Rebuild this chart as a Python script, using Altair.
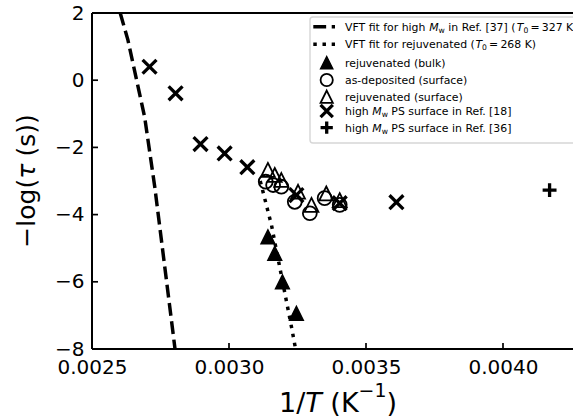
import altair as alt
import pandas as pd

# ---------------- data ----------------
vft_high_x = [0.002603, 0.002631, 0.002692, 0.002729, 0.002803]
vft_high_y = [2.0, 1.20, -1.09, -3.17, -8.0]

vft_rej_x = [0.003114, 0.003155, 0.003228, 0.003243]
vft_rej_y = [-3.00, -4.31, -7.34, -8.0]

bulk_x = [0.003142, 0.003167, 0.003195, 0.003246]
bulk_y = [-4.66, -5.15, -6.00, -6.94]

asdep_x = [0.003134, 0.003161, 0.003191, 0.003240, 0.003295, 0.003349, 0.003404]
asdep_y = [-3.02, -3.12, -3.17, -3.62, -3.96, -3.51, -3.71]

rejsurf_x = [0.003142, 0.003167, 0.003191, 0.003252, 0.003301, 0.003355, 0.003404]
rejsurf_y = [-2.67, -2.82, -2.97, -3.32, -3.71, -3.37, -3.57]

ref18_x = [0.002710, 0.002805, 0.002896, 0.002984, 0.003067, 0.003246, 0.003404, 0.003611]
ref18_y = [0.40, -0.39, -1.90, -2.18, -2.59, -3.42, -3.66, -3.63]

ref36_x = [0.004170]
ref36_y = [-3.27]

x_ticks = [0.0025, 0.0030, 0.0035, 0.0040]
y_ticks = [-8, -6, -4, -2, 0, 2]

# label segments: (text, style); style "g" is a math gap given in em
legend_rows = [
    [("VFT fit for high ", "n"), ("M", "i"), ("w", "sub"), (" in Ref. [37] (", "n"),
     ("T", "i"), ("0", "sub"), (0.2, "g"), ("=", "n"), (0.2, "g"), ("327", "n"), (" K)", "n")],
    [("VFT fit for rejuvenated (", "n"), ("T", "i"), ("0", "sub"), (0.2, "g"), ("=", "n"),
     (0.2, "g"), ("268", "n"), (" K)", "n")],
    [("rejuvenated (bulk)", "n")],
    [("as-deposited (surface)", "n")],
    [("rejuvenated (surface)", "n")],
    [("high ", "n"), ("M", "i"), ("w", "sub"), (" PS surface in Ref. [18]", "n")],
    [("high ", "n"), ("M", "i"), ("w", "sub"), (" PS surface in Ref. [36]", "n")],
]
x_title = [("1/", "n"), ("T", "i"), (" (K", "n"), ("\u22121", "sup"), (")", "n")]
y_title = [("\u2212log(", "n"), ("\u03c4", "i"), (" (s))", "n")]

# ---------------- layout ----------------
FONT = "DejaVu Sans"
PW, PH = 481, 336
PX_PER_UNIT = 274000
XMIN = 0.0025
XMAX = XMIN + PW / PX_PER_UNIT
YMIN, YMAX = -8, 2
LW = 3.47
DASH = [12.85, 5.56]
DOT = [3.47, 5.72]
MSIZE = 193
TRI = "M0,-1L1,1L-1,1Z"
XSHAPE = "M-1,-1L1,1M-1,1L1,-1"
PLUS = "M-1,0L1,0M0,-1L0,1"

# DejaVu Sans advance widths (units of 1/2048 em)
ADV = {' ': 651, '(': 799, ')': 799, '-': 739, '.': 651, '/': 690, '=': 1716,
       '[': 799, ']': 799, 'F': 1178, 'K': 1343, 'M': 1767, 'P': 1235, 'R': 1423,
       'S': 1300, 'T': 1251, 'V': 1401, 'a': 1255, 'b': 1300, 'c': 1126, 'd': 1300,
       'e': 1260, 'f': 721, 'g': 1300, 'h': 1298, 'i': 569, 'j': 569, 'k': 1186,
       'l': 569, 'n': 1298, 'o': 1253, 'p': 1300, 'r': 842, 's': 1067, 't': 803,
       'u': 1298, 'v': 1212, 'w': 1675, '\u2212': 1716, '\u03c4': 1170}
for d in "0123456789":
    ADV[d] = 1303


def tw(s, fs):
    return sum(ADV.get(c, 1200) for c in s) / 2048 * fs


def seg_width(txt, style, fs):
    if style == "g":
        return txt * fs
    return tw(txt, fs * 0.7 if style in ("sub", "sup") else fs)


def layout_segments(segs, x0, baseline, fs, rows):
    x = x0
    for txt, style in segs:
        if style == "g":
            x += txt * fs
            continue
        size = fs * 0.7 if style in ("sub", "sup") else fs
        y = baseline
        if style == "sub":
            y = baseline + 0.2 * fs
        elif style == "sup":
            y = baseline - 0.54 * fs
        lead = len(txt) - len(txt.lstrip(" "))
        shown = txt.lstrip(" ")
        rows.append({"px": x + tw(" " * lead, size), "py": y, "txt": shown, "fs": size,
                     "it": style == "i"})
        x += seg_width(txt, style, fs)


def xenc(field):
    return alt.X(f"{field}:Q",
                 scale=alt.Scale(domain=[XMIN, XMAX], nice=False, zero=False),
                 axis=alt.Axis(values=x_ticks, format=".4f", title=None, domain=False,
                               ticks=False, grid=False, labelFont=FONT, labelFontSize=20,
                               labelColor="black", labelPadding=8, labelFlush=False,
                               labelOverlap=False, labelBound=False))


def yenc(field):
    return alt.Y(f"{field}:Q",
                 scale=alt.Scale(domain=[YMIN, YMAX], nice=False, zero=False),
                 axis=alt.Axis(values=y_ticks, format="d", title=None, domain=False,
                               ticks=False, grid=False, labelFont=FONT, labelFontSize=20,
                               labelColor="black", labelPadding=8, labelFlush=False,
                               labelOverlap=False, labelBound=False))


def df(xs, ys):
    return pd.DataFrame({"x": xs, "y": ys})


one = pd.DataFrame({"k": [0]})

layers = []

# fit lines
layers.append(alt.Chart(df(vft_high_x, vft_high_y)).mark_line(
    clip=True, color="black", strokeWidth=LW, strokeDash=DASH, strokeCap="butt"
).encode(x=xenc("x"), y=yenc("y")))
layers.append(alt.Chart(df(vft_rej_x, vft_rej_y)).mark_line(
    clip=True, color="black", strokeWidth=LW, strokeDash=DOT, strokeCap="butt"
).encode(x=xenc("x"), y=yenc("y")))

# markers
filled_tri = dict(shape=TRI, size=MSIZE, filled=True, fill="black", stroke="black",
                  strokeWidth=1.4, opacity=1)
open_circ = dict(shape="circle", size=MSIZE, filled=False, stroke="black",
                 strokeWidth=1.8, opacity=1)
open_tri = dict(shape=TRI, size=MSIZE, filled=False, stroke="black",
                strokeWidth=1.8, opacity=1)
x_mark = dict(shape=XSHAPE, size=MSIZE, filled=False, stroke="black",
              strokeWidth=3.3, opacity=1, strokeCap="butt")
p_mark = dict(shape=PLUS, size=MSIZE, filled=False, stroke="black",
              strokeWidth=3.3, opacity=1, strokeCap="butt")

for xs, ys, style in [(bulk_x, bulk_y, filled_tri), (asdep_x, asdep_y, open_circ),
                      (rejsurf_x, rejsurf_y, open_tri), (ref18_x, ref18_y, x_mark),
                      (ref36_x, ref36_y, p_mark)]:
    layers.append(alt.Chart(df(xs, ys)).mark_point(**style).encode(x=xenc("x"), y=yenc("y")))

# spines
layers.append(alt.Chart(one).mark_rule(color="black", strokeWidth=2).encode(
    x=alt.value(0), x2=alt.value(PW), y=alt.value(0)))
layers.append(alt.Chart(one).mark_rule(color="black", strokeWidth=2).encode(
    x=alt.value(0), x2=alt.value(PW), y=alt.value(PH)))
layers.append(alt.Chart(one).mark_rule(color="black", strokeWidth=2).encode(
    x=alt.value(0), y=alt.value(0), y2=alt.value(PH)))

# inward ticks
layers.append(alt.Chart(pd.DataFrame({"t": x_ticks[1:]})).mark_rule(
    color="black", strokeWidth=1.7).encode(x=xenc("t"), y=alt.value(PH), y2=alt.value(PH - 6)))
layers.append(alt.Chart(pd.DataFrame({"t": y_ticks[1:-1]})).mark_rule(
    color="black", strokeWidth=1.7).encode(y=yenc("t"), x=alt.value(0), x2=alt.value(6)))

# legend frame
layers.append(alt.Chart(one).mark_rect(
    fill="white", fillOpacity=0.8, stroke="#cccccc", strokeOpacity=0.8, strokeWidth=1.4,
    cornerRadius=3).encode(x=alt.value(218), x2=alt.value(540), y=alt.value(4), y2=alt.value(130)))

ROW_Y = [13.7, 31.3, 49.7, 67.0, 83.7, 98.0, 114.7]
H0, H1, HC = 221.3, 243.0, 234.7
layers.append(alt.Chart(one).mark_rule(color="black", strokeWidth=LW, strokeDash=DASH,
                                       strokeCap="butt").encode(
    x=alt.value(H0), x2=alt.value(H1), y=alt.value(ROW_Y[0])))
layers.append(alt.Chart(one).mark_rule(color="black", strokeWidth=LW, strokeDash=DOT,
                                       strokeCap="butt").encode(
    x=alt.value(H0), x2=alt.value(H1), y=alt.value(ROW_Y[1])))
leg_size = 150
for i, style in zip(range(2, 7), [filled_tri, open_circ, open_tri, x_mark, p_mark]):
    st = dict(style)
    st["size"] = leg_size
    layers.append(alt.Chart(one).mark_point(**st).encode(
        x=alt.value(HC), y=alt.value(ROW_Y[i])))

# text segments (legend labels, x title)
LFS = 10.9
seg_rows = []
for segs, ry in zip(legend_rows, ROW_Y):
    layout_segments(segs, 253, ry + 0.3645 * LFS, LFS, seg_rows)
TFS = 25
XTFS = 27
xt_total = sum(seg_width(t, s, XTFS) for t, s in x_title)
layout_segments(x_title, 246 - xt_total / 2, 398.5, XTFS, seg_rows)
seg_df = pd.DataFrame(seg_rows)

for italic in (False, True):
    sub = seg_df[seg_df["it"] == italic]
    layers.append(alt.Chart(sub).mark_text(
        align="left", baseline="alphabetic", font=FONT, color="black",
        fontStyle="italic" if italic else "normal").encode(
        x=alt.X("px:Q", scale=None, axis=None), y=alt.Y("py:Q", scale=None, axis=None),
        size=alt.Size("fs:Q", scale=None, legend=None), text="txt:N"))

# rotated y title
yt_rows = []
yt_total = sum(seg_width(t, s, TFS) for t, s in y_title)
ystart = PH / 2 + yt_total / 2
acc = 0.0
for txt, style in y_title:
    lead = len(txt) - len(txt.lstrip(" "))
    yt_rows.append({"px": -65, "py": ystart - acc - tw(" " * lead, TFS), "txt": txt.lstrip(" "),
                    "it": style == "i"})
    acc += seg_width(txt, style, TFS)
yt_df = pd.DataFrame(yt_rows)
for italic in (False, True):
    sub = yt_df[yt_df["it"] == italic]
    layers.append(alt.Chart(sub).mark_text(
        align="left", baseline="middle", font=FONT, color="black", angle=270, fontSize=TFS,
        fontStyle="italic" if italic else "normal").encode(
        x=alt.X("px:Q", scale=None, axis=None), y=alt.Y("py:Q", scale=None, axis=None),
        text="txt:N"))

chart = alt.layer(*layers).properties(
    width=PW, height=PH,
    autosize=alt.AutoSizeParams(type="none"),
    padding={"left": 92, "top": 13, "right": 0, "bottom": 67},
).configure_view(stroke=None)

chart.save("out.html", embed_options={"renderer": "svg", "actions": False})
